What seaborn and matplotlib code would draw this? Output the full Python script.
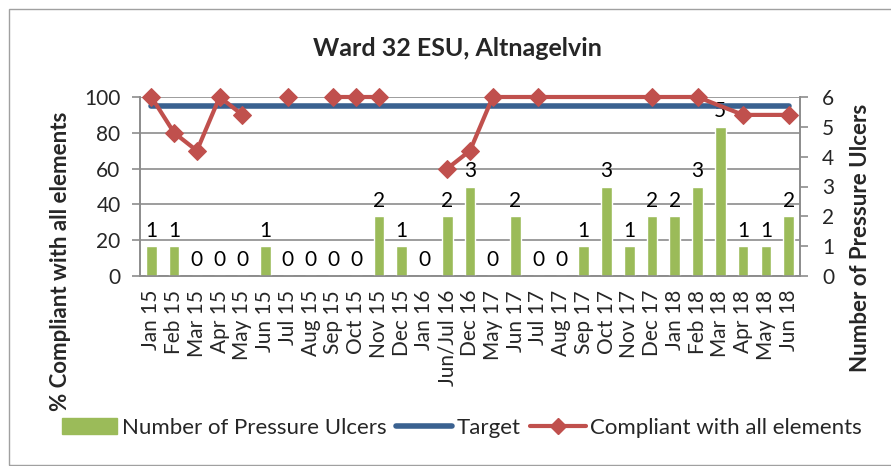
import numpy as np
import pandas as pd
import matplotlib
matplotlib.use("Agg")
import matplotlib.pyplot as plt
import seaborn as sns
from matplotlib.lines import Line2D
from matplotlib.patches import Patch, Rectangle

categories = ["Jan 15", "Feb 15", "Mar 15", "Apr 15", "May 15", "Jun 15", "Jul 15",
              "Aug 15", "Sep 15", "Oct 15", "Nov 15", "Dec 15", "Jan 16", "Jun/Jul 16",
              "Dec 16", "May 17", "Jun 17", "Jul 17", "Aug 17", "Sep 17", "Oct 17",
              "Nov 17", "Dec 17", "Jan 18", "Feb 18", "Mar 18", "Apr 18", "May 18", "Jun 18"]
ulcers = [1, 1, 0, 0, 0, 1, 0, 0, 0, 0, 2, 1, 0, 2, 3, 0, 2, 0, 0, 1, 3, 1, 2, 2, 3, 5, 1, 1, 2]
compliant = [100, 80, 70, 100, 90, None, 100, None, 100, 100, 100, None, None, 60,
             70, 100, None, 100, None, None, None, None, 100, None, 100, None, 90, None, 90]
line_group = [1, 1, 1, 1, 1, 0, 2, 0, 3, 3, 3, 0, 0, 4,
              4, 4, 0, 4, 0, 0, 0, 0, 4, 0, 4, 0, 4, 0, 4]
target = [95] * len(categories)

GREEN = "#9BBB59"
BLUE = "#3A6190"
RED = "#C0504D"
GRID = "#8C8C8C"
FS = 15

sns.set_theme(style="white")
plt.rcParams["font.family"] = ["Lato", "DejaVu Sans"]

fig = plt.figure(figsize=(8.91, 4.66), dpi=100)
ax = fig.add_axes([140 / 891, 1 - 276 / 466, 660 / 891, 179 / 466])
ax2 = ax.twinx()
ax3 = ax.twinx()

pos = np.arange(len(categories))

# left axis: percent
ax.set_ylim(0, 100)
ax.set_yticks([0, 20, 40, 60, 80, 100])
ax.grid(axis="y", color=GRID, linewidth=1.2)
ax.set_axisbelow(True)

# bars on right axis
bdf = pd.DataFrame({"cat": categories, "n": ulcers})
sns.barplot(data=bdf, x="cat", y="n", ax=ax2, color=GREEN, width=0.47,
            saturation=1, order=categories)
ax2.set_ylim(0, 6)
ax2.set_yticks(range(0, 7))
for i, v in enumerate(ulcers):
    ax2.annotate(str(v), (i, v), xytext=(0, 4), textcoords="offset points",
                 ha="center", va="bottom", fontsize=FS, color="black")

# lines on third axis (same scale as percent)
ax3.set_ylim(0, 100)
tdf = pd.DataFrame({"pos": pos, "target": target})
sns.lineplot(data=tdf, x="pos", y="target", ax=ax3, color=BLUE, linewidth=4,
             solid_capstyle="round")
cdf = pd.DataFrame({"pos": pos, "val": compliant, "grp": line_group}).dropna()
sns.lineplot(data=cdf, x="pos", y="val", units="grp", estimator=None, ax=ax3,
             color=RED, linewidth=3, marker="D", markersize=9,
             markeredgecolor=RED, sort=False, clip_on=False)
ax3.set_yticks([])
ax3.set_ylabel("")
ax3.set_xlabel("")
for s in ax3.spines.values():
    s.set_visible(False)

ax.set_xlim(-0.5, len(categories) - 0.5)
ax.set_xticks(pos)
ax.set_xticklabels(categories, rotation=90, fontsize=FS)
ax.set_xticks(np.arange(-0.5, len(categories), 1), minor=True)
ax.tick_params(axis="x", which="major", length=0, pad=10)
ax.tick_params(axis="x", which="minor", length=6, width=1.2, color=GRID, direction="out")
ax.tick_params(axis="y", length=6, width=1.2, color=GRID, direction="out", labelsize=FS, pad=8)
ax2.tick_params(axis="y", length=6, width=1.2, color=GRID, direction="out", labelsize=FS, pad=10)
ax.set_xlabel("")
ax2.set_xlabel("")

for a in (ax, ax2):
    a.spines["top"].set_visible(False)
    for k in ("left", "right", "bottom"):
        a.spines[k].set_color(GRID)
        a.spines[k].set_linewidth(1.2)

ax.set_ylabel("% Compliant with all elements", fontsize=16, fontweight="bold")
ax.yaxis.set_label_coords(-0.121, 0.084)
ax.yaxis.label.set_va("center")
ax2.set_ylabel("Number of Pressure Ulcers", fontsize=16, fontweight="bold")
ax2.yaxis.set_label_coords(1.091, 0.212)
ax2.yaxis.label.set_va("center")

fig.text(457 / 891, 1 - 48 / 466, "Ward 32 ESU, Altnagelvin", ha="center", va="center",
         fontsize=18, fontweight="bold")

handles = [Patch(facecolor=GREEN, edgecolor=GREEN),
           Line2D([], [], color=BLUE, linewidth=4),
           Line2D([], [], color=RED, linewidth=3, marker="D", markersize=8)]
labels = ["Number of Pressure Ulcers", "Target", "Compliant with all elements"]
fig.legend(handles, labels, loc="center", bbox_to_anchor=(462 / 891, 1 - 428 / 466),
           ncol=3, frameon=False, fontsize=16, handlelength=2.5, handletextpad=0.2,
           columnspacing=0.45)

fig.patches.append(Rectangle((9 / 891, 1 / 466), 1.0, 1 - 10 / 466, transform=fig.transFigure,
                             fill=False, edgecolor="#A0A0A0", linewidth=1))

fig.savefig("out.png", dpi=100)
